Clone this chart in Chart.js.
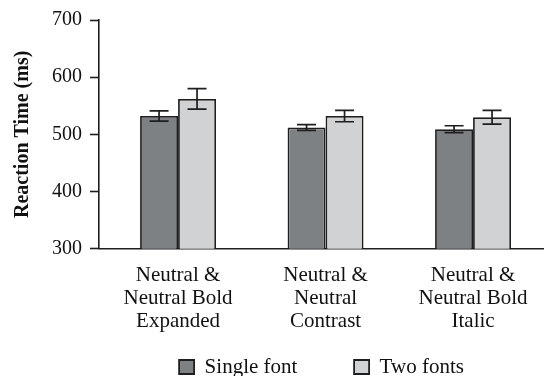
<!DOCTYPE html>
<html>
<head>
<meta charset="utf-8">
<script src="https://cdn.jsdelivr.net/npm/chart.js@4.4.1/dist/chart.umd.min.js"></script>
<style>
  html, body { margin: 0; padding: 0; background: #ffffff; }
  #wrap { width: 544px; height: 376px; }
</style>
</head>
<body>
<div id="wrap"><canvas id="chart" width="544" height="376"></canvas></div>
<script>
// Condition labels (one array of lines per condition)
const categories = [
  ["Neutral &", "Neutral Bold", "Expanded"],
  ["Neutral &", "Neutral", "Contrast"],
  ["Neutral &", "Neutral Bold", "Italic"]
];
const seriesNames = ["Single font", "Two fonts"];

// Mean reaction times (ms)
const singleFont = [532, 512, 509];
const twoFonts = [562, 532, 530];

// Error bar half-lengths (ms)
const singleFontErr = [9, 5, 6];
const twoFontsErr = [18, 10, 12];

// Y axis ticks
const yTicks = [300, 400, 500, 600, 700];

const SERIF = "'Liberation Serif', 'Times New Roman', serif";
const INK = "#1e1e1e";

// Draws error bars from each bar's value through the y scale
const errorBars = {
  id: "errorBars",
  afterDatasetsDraw(chart) {
    const ctx = chart.ctx;
    const yScale = chart.scales.y;
    chart.data.datasets.forEach((ds, di) => {
      const meta = chart.getDatasetMeta(di);
      meta.data.forEach((bar, i) => {
        const v = ds.data[i].y;
        const e = ds.errors[i];
        const top = yScale.getPixelForValue(v + e);
        const bot = yScale.getPixelForValue(v - e);
        const half = bar.width / 4;
        ctx.save();
        ctx.strokeStyle = INK;
        ctx.lineWidth = 1.7;
        ctx.beginPath();
        ctx.moveTo(bar.x, top); ctx.lineTo(bar.x, bot);
        ctx.moveTo(bar.x - half, top); ctx.lineTo(bar.x + half, top);
        ctx.moveTo(bar.x - half, bot); ctx.lineTo(bar.x + half, bot);
        ctx.stroke();
        ctx.restore();
      });
    });
  }
};

const toPoints = (arr) => arr.map((v, i) => ({ x: i, y: v }));

new Chart(document.getElementById("chart"), {
  type: "bar",
  data: {
    datasets: [
      {
        label: seriesNames[0],
        data: toPoints(singleFont),
        errors: singleFontErr,
        backgroundColor: "#7e8184",
        borderColor: INK,
        borderWidth: 1.8
      },
      {
        label: seriesNames[1],
        data: toPoints(twoFonts),
        errors: twoFontsErr,
        backgroundColor: "#d1d2d4",
        borderColor: INK,
        borderWidth: 1.8
      }
    ]
  },
  plugins: [errorBars],
  options: {
    responsive: false,
    animation: false,
    devicePixelRatio: 1,
    categoryPercentage: 0.515,
    barPercentage: 1,
    layout: { padding: { top: 17, right: 0, bottom: -11.5, left: 0 } },
    plugins: {
      tooltip: { enabled: false },
      legend: {
        position: "bottom",
        fullSize: false,
        labels: {
          font: { family: SERIF, size: 21 },
          color: "#111",
          boxWidth: 15,
          boxHeight: 14,
          padding: 20,
          // wider gap between the two legend entries
          generateLabels: (chart) => {
            const items = Chart.defaults.plugins.legend.labels.generateLabels(chart);
            items.forEach((item, i) => {
              if (i < items.length - 1) item.text += "       ";
            });
            return items;
          }
        }
      }
    },
    scales: {
      x: {
        type: "linear",
        offset: false,
        min: -0.536,
        max: 2.481,
        afterBuildTicks: (scale) => {
          scale.ticks = categories.map((_, i) => ({ value: i }));
        },
        afterFit: (scale) => { scale.height = 87.8; },
        grid: { display: false, drawTicks: false },
        border: { display: true, color: INK, width: 1.6 },
        ticks: {
          autoSkip: false,
          maxRotation: 0,
          padding: 15,
          color: "#111",
          font: { family: SERIF, size: 21, lineHeight: 1.1 },
          callback: (value) => categories[value]
        }
      },
      y: {
        min: yTicks[0],
        max: yTicks[yTicks.length - 1],
        afterBuildTicks: (scale) => {
          scale.ticks = yTicks.map((v) => ({ value: v }));
        },
        afterFit: (scale) => { scale.width = 99; },
        grid: {
          drawOnChartArea: false,
          drawTicks: true,
          tickLength: 9,
          tickWidth: 1.6,
          color: INK
        },
        border: { display: true, color: INK, width: 1.6 },
        ticks: {
          padding: 8,
          color: "#111",
          font: { family: SERIF, size: 20 }
        },
        title: {
          display: true,
          text: "Reaction Time (ms)",
          color: "#111",
          padding: { top: 11, bottom: 0 },
          font: { family: SERIF, size: 20, weight: "bold" }
        }
      }
    }
  }
});
</script>
</body>
</html>
